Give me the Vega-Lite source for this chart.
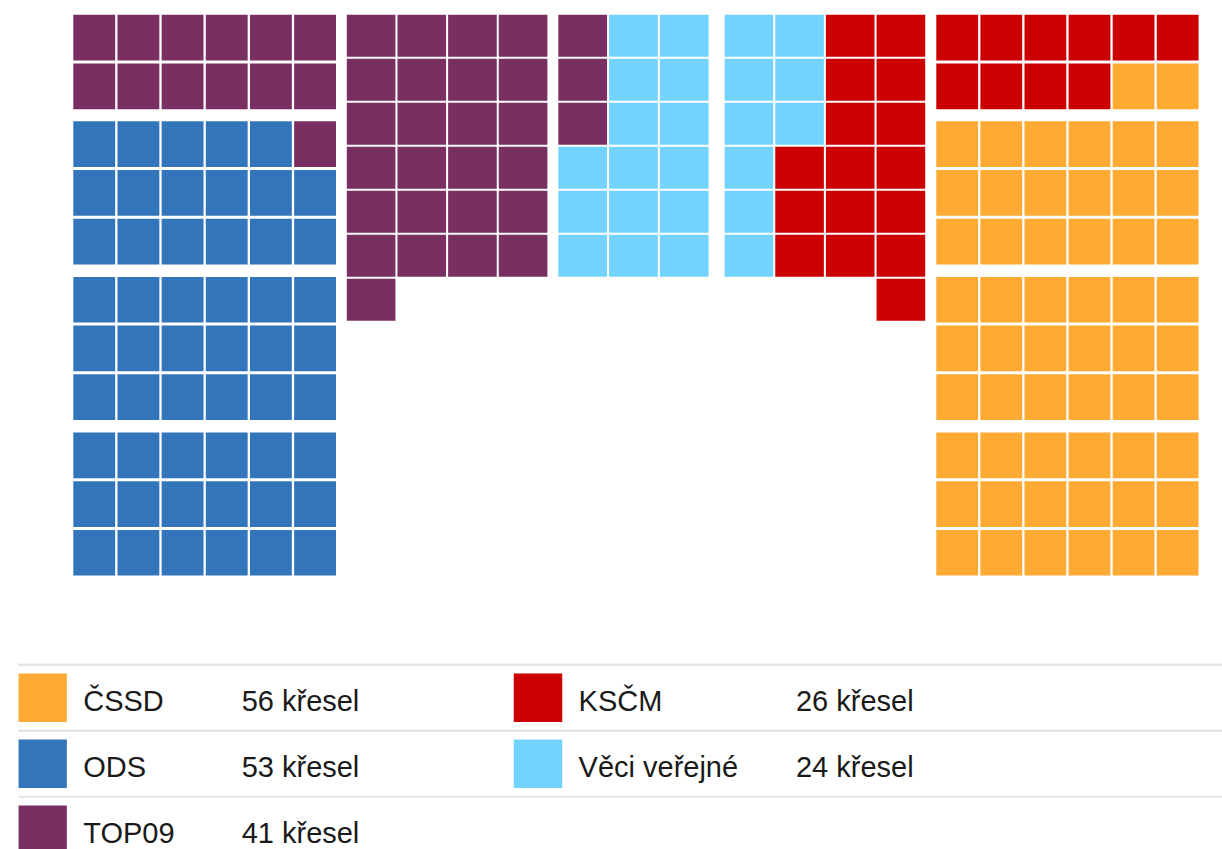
{
  "$schema": "https://vega.github.io/schema/vega-lite/v6.json",
  "padding": {"left": 17.3, "top": 14.7, "right": 0, "bottom": 0},
  "background": "white",
  "datasets": {
    "seats": [
      {"block":"L","group":1,"row":1,"col":1,"party":"TOP09"},{"block":"L","group":1,"row":1,"col":2,"party":"TOP09"},{"block":"L","group":1,"row":1,"col":3,"party":"TOP09"},{"block":"L","group":1,"row":1,"col":4,"party":"TOP09"},{"block":"L","group":1,"row":1,"col":5,"party":"TOP09"},{"block":"L","group":1,"row":1,"col":6,"party":"TOP09"},
      {"block":"L","group":1,"row":2,"col":1,"party":"TOP09"},{"block":"L","group":1,"row":2,"col":2,"party":"TOP09"},{"block":"L","group":1,"row":2,"col":3,"party":"TOP09"},{"block":"L","group":1,"row":2,"col":4,"party":"TOP09"},{"block":"L","group":1,"row":2,"col":5,"party":"TOP09"},{"block":"L","group":1,"row":2,"col":6,"party":"TOP09"},
      {"block":"L","group":2,"row":1,"col":1,"party":"ODS"},{"block":"L","group":2,"row":1,"col":2,"party":"ODS"},{"block":"L","group":2,"row":1,"col":3,"party":"ODS"},{"block":"L","group":2,"row":1,"col":4,"party":"ODS"},{"block":"L","group":2,"row":1,"col":5,"party":"ODS"},{"block":"L","group":2,"row":1,"col":6,"party":"TOP09"},
      {"block":"L","group":2,"row":2,"col":1,"party":"ODS"},{"block":"L","group":2,"row":2,"col":2,"party":"ODS"},{"block":"L","group":2,"row":2,"col":3,"party":"ODS"},{"block":"L","group":2,"row":2,"col":4,"party":"ODS"},{"block":"L","group":2,"row":2,"col":5,"party":"ODS"},{"block":"L","group":2,"row":2,"col":6,"party":"ODS"},
      {"block":"L","group":2,"row":3,"col":1,"party":"ODS"},{"block":"L","group":2,"row":3,"col":2,"party":"ODS"},{"block":"L","group":2,"row":3,"col":3,"party":"ODS"},{"block":"L","group":2,"row":3,"col":4,"party":"ODS"},{"block":"L","group":2,"row":3,"col":5,"party":"ODS"},{"block":"L","group":2,"row":3,"col":6,"party":"ODS"},
      {"block":"L","group":3,"row":1,"col":1,"party":"ODS"},{"block":"L","group":3,"row":1,"col":2,"party":"ODS"},{"block":"L","group":3,"row":1,"col":3,"party":"ODS"},{"block":"L","group":3,"row":1,"col":4,"party":"ODS"},{"block":"L","group":3,"row":1,"col":5,"party":"ODS"},{"block":"L","group":3,"row":1,"col":6,"party":"ODS"},
      {"block":"L","group":3,"row":2,"col":1,"party":"ODS"},{"block":"L","group":3,"row":2,"col":2,"party":"ODS"},{"block":"L","group":3,"row":2,"col":3,"party":"ODS"},{"block":"L","group":3,"row":2,"col":4,"party":"ODS"},{"block":"L","group":3,"row":2,"col":5,"party":"ODS"},{"block":"L","group":3,"row":2,"col":6,"party":"ODS"},
      {"block":"L","group":3,"row":3,"col":1,"party":"ODS"},{"block":"L","group":3,"row":3,"col":2,"party":"ODS"},{"block":"L","group":3,"row":3,"col":3,"party":"ODS"},{"block":"L","group":3,"row":3,"col":4,"party":"ODS"},{"block":"L","group":3,"row":3,"col":5,"party":"ODS"},{"block":"L","group":3,"row":3,"col":6,"party":"ODS"},
      {"block":"L","group":4,"row":1,"col":1,"party":"ODS"},{"block":"L","group":4,"row":1,"col":2,"party":"ODS"},{"block":"L","group":4,"row":1,"col":3,"party":"ODS"},{"block":"L","group":4,"row":1,"col":4,"party":"ODS"},{"block":"L","group":4,"row":1,"col":5,"party":"ODS"},{"block":"L","group":4,"row":1,"col":6,"party":"ODS"},
      {"block":"L","group":4,"row":2,"col":1,"party":"ODS"},{"block":"L","group":4,"row":2,"col":2,"party":"ODS"},{"block":"L","group":4,"row":2,"col":3,"party":"ODS"},{"block":"L","group":4,"row":2,"col":4,"party":"ODS"},{"block":"L","group":4,"row":2,"col":5,"party":"ODS"},{"block":"L","group":4,"row":2,"col":6,"party":"ODS"},
      {"block":"L","group":4,"row":3,"col":1,"party":"ODS"},{"block":"L","group":4,"row":3,"col":2,"party":"ODS"},{"block":"L","group":4,"row":3,"col":3,"party":"ODS"},{"block":"L","group":4,"row":3,"col":4,"party":"ODS"},{"block":"L","group":4,"row":3,"col":5,"party":"ODS"},{"block":"L","group":4,"row":3,"col":6,"party":"ODS"},

      {"block":"A","row":1,"col":1,"party":"TOP09"},{"block":"A","row":1,"col":2,"party":"TOP09"},{"block":"A","row":1,"col":3,"party":"TOP09"},{"block":"A","row":1,"col":4,"party":"TOP09"},
      {"block":"A","row":2,"col":1,"party":"TOP09"},{"block":"A","row":2,"col":2,"party":"TOP09"},{"block":"A","row":2,"col":3,"party":"TOP09"},{"block":"A","row":2,"col":4,"party":"TOP09"},
      {"block":"A","row":3,"col":1,"party":"TOP09"},{"block":"A","row":3,"col":2,"party":"TOP09"},{"block":"A","row":3,"col":3,"party":"TOP09"},{"block":"A","row":3,"col":4,"party":"TOP09"},
      {"block":"A","row":4,"col":1,"party":"TOP09"},{"block":"A","row":4,"col":2,"party":"TOP09"},{"block":"A","row":4,"col":3,"party":"TOP09"},{"block":"A","row":4,"col":4,"party":"TOP09"},
      {"block":"A","row":5,"col":1,"party":"TOP09"},{"block":"A","row":5,"col":2,"party":"TOP09"},{"block":"A","row":5,"col":3,"party":"TOP09"},{"block":"A","row":5,"col":4,"party":"TOP09"},
      {"block":"A","row":6,"col":1,"party":"TOP09"},{"block":"A","row":6,"col":2,"party":"TOP09"},{"block":"A","row":6,"col":3,"party":"TOP09"},{"block":"A","row":6,"col":4,"party":"TOP09"},
      {"block":"A","row":7,"col":1,"party":"TOP09"},

      {"block":"B","row":1,"col":1,"party":"TOP09"},{"block":"B","row":1,"col":2,"party":"Věci veřejné"},{"block":"B","row":1,"col":3,"party":"Věci veřejné"},
      {"block":"B","row":2,"col":1,"party":"TOP09"},{"block":"B","row":2,"col":2,"party":"Věci veřejné"},{"block":"B","row":2,"col":3,"party":"Věci veřejné"},
      {"block":"B","row":3,"col":1,"party":"TOP09"},{"block":"B","row":3,"col":2,"party":"Věci veřejné"},{"block":"B","row":3,"col":3,"party":"Věci veřejné"},
      {"block":"B","row":4,"col":1,"party":"Věci veřejné"},{"block":"B","row":4,"col":2,"party":"Věci veřejné"},{"block":"B","row":4,"col":3,"party":"Věci veřejné"},
      {"block":"B","row":5,"col":1,"party":"Věci veřejné"},{"block":"B","row":5,"col":2,"party":"Věci veřejné"},{"block":"B","row":5,"col":3,"party":"Věci veřejné"},
      {"block":"B","row":6,"col":1,"party":"Věci veřejné"},{"block":"B","row":6,"col":2,"party":"Věci veřejné"},{"block":"B","row":6,"col":3,"party":"Věci veřejné"},

      {"block":"C","row":1,"col":1,"party":"Věci veřejné"},{"block":"C","row":1,"col":2,"party":"Věci veřejné"},{"block":"C","row":1,"col":3,"party":"KSČM"},{"block":"C","row":1,"col":4,"party":"KSČM"},
      {"block":"C","row":2,"col":1,"party":"Věci veřejné"},{"block":"C","row":2,"col":2,"party":"Věci veřejné"},{"block":"C","row":2,"col":3,"party":"KSČM"},{"block":"C","row":2,"col":4,"party":"KSČM"},
      {"block":"C","row":3,"col":1,"party":"Věci veřejné"},{"block":"C","row":3,"col":2,"party":"Věci veřejné"},{"block":"C","row":3,"col":3,"party":"KSČM"},{"block":"C","row":3,"col":4,"party":"KSČM"},
      {"block":"C","row":4,"col":1,"party":"Věci veřejné"},{"block":"C","row":4,"col":2,"party":"KSČM"},{"block":"C","row":4,"col":3,"party":"KSČM"},{"block":"C","row":4,"col":4,"party":"KSČM"},
      {"block":"C","row":5,"col":1,"party":"Věci veřejné"},{"block":"C","row":5,"col":2,"party":"KSČM"},{"block":"C","row":5,"col":3,"party":"KSČM"},{"block":"C","row":5,"col":4,"party":"KSČM"},
      {"block":"C","row":6,"col":1,"party":"Věci veřejné"},{"block":"C","row":6,"col":2,"party":"KSČM"},{"block":"C","row":6,"col":3,"party":"KSČM"},{"block":"C","row":6,"col":4,"party":"KSČM"},
      {"block":"C","row":7,"col":4,"party":"KSČM"},

      {"block":"R","group":1,"row":1,"col":1,"party":"KSČM"},{"block":"R","group":1,"row":1,"col":2,"party":"KSČM"},{"block":"R","group":1,"row":1,"col":3,"party":"KSČM"},{"block":"R","group":1,"row":1,"col":4,"party":"KSČM"},{"block":"R","group":1,"row":1,"col":5,"party":"KSČM"},{"block":"R","group":1,"row":1,"col":6,"party":"KSČM"},
      {"block":"R","group":1,"row":2,"col":1,"party":"KSČM"},{"block":"R","group":1,"row":2,"col":2,"party":"KSČM"},{"block":"R","group":1,"row":2,"col":3,"party":"KSČM"},{"block":"R","group":1,"row":2,"col":4,"party":"KSČM"},{"block":"R","group":1,"row":2,"col":5,"party":"ČSSD"},{"block":"R","group":1,"row":2,"col":6,"party":"ČSSD"},
      {"block":"R","group":2,"row":1,"col":1,"party":"ČSSD"},{"block":"R","group":2,"row":1,"col":2,"party":"ČSSD"},{"block":"R","group":2,"row":1,"col":3,"party":"ČSSD"},{"block":"R","group":2,"row":1,"col":4,"party":"ČSSD"},{"block":"R","group":2,"row":1,"col":5,"party":"ČSSD"},{"block":"R","group":2,"row":1,"col":6,"party":"ČSSD"},
      {"block":"R","group":2,"row":2,"col":1,"party":"ČSSD"},{"block":"R","group":2,"row":2,"col":2,"party":"ČSSD"},{"block":"R","group":2,"row":2,"col":3,"party":"ČSSD"},{"block":"R","group":2,"row":2,"col":4,"party":"ČSSD"},{"block":"R","group":2,"row":2,"col":5,"party":"ČSSD"},{"block":"R","group":2,"row":2,"col":6,"party":"ČSSD"},
      {"block":"R","group":2,"row":3,"col":1,"party":"ČSSD"},{"block":"R","group":2,"row":3,"col":2,"party":"ČSSD"},{"block":"R","group":2,"row":3,"col":3,"party":"ČSSD"},{"block":"R","group":2,"row":3,"col":4,"party":"ČSSD"},{"block":"R","group":2,"row":3,"col":5,"party":"ČSSD"},{"block":"R","group":2,"row":3,"col":6,"party":"ČSSD"},
      {"block":"R","group":3,"row":1,"col":1,"party":"ČSSD"},{"block":"R","group":3,"row":1,"col":2,"party":"ČSSD"},{"block":"R","group":3,"row":1,"col":3,"party":"ČSSD"},{"block":"R","group":3,"row":1,"col":4,"party":"ČSSD"},{"block":"R","group":3,"row":1,"col":5,"party":"ČSSD"},{"block":"R","group":3,"row":1,"col":6,"party":"ČSSD"},
      {"block":"R","group":3,"row":2,"col":1,"party":"ČSSD"},{"block":"R","group":3,"row":2,"col":2,"party":"ČSSD"},{"block":"R","group":3,"row":2,"col":3,"party":"ČSSD"},{"block":"R","group":3,"row":2,"col":4,"party":"ČSSD"},{"block":"R","group":3,"row":2,"col":5,"party":"ČSSD"},{"block":"R","group":3,"row":2,"col":6,"party":"ČSSD"},
      {"block":"R","group":3,"row":3,"col":1,"party":"ČSSD"},{"block":"R","group":3,"row":3,"col":2,"party":"ČSSD"},{"block":"R","group":3,"row":3,"col":3,"party":"ČSSD"},{"block":"R","group":3,"row":3,"col":4,"party":"ČSSD"},{"block":"R","group":3,"row":3,"col":5,"party":"ČSSD"},{"block":"R","group":3,"row":3,"col":6,"party":"ČSSD"},
      {"block":"R","group":4,"row":1,"col":1,"party":"ČSSD"},{"block":"R","group":4,"row":1,"col":2,"party":"ČSSD"},{"block":"R","group":4,"row":1,"col":3,"party":"ČSSD"},{"block":"R","group":4,"row":1,"col":4,"party":"ČSSD"},{"block":"R","group":4,"row":1,"col":5,"party":"ČSSD"},{"block":"R","group":4,"row":1,"col":6,"party":"ČSSD"},
      {"block":"R","group":4,"row":2,"col":1,"party":"ČSSD"},{"block":"R","group":4,"row":2,"col":2,"party":"ČSSD"},{"block":"R","group":4,"row":2,"col":3,"party":"ČSSD"},{"block":"R","group":4,"row":2,"col":4,"party":"ČSSD"},{"block":"R","group":4,"row":2,"col":5,"party":"ČSSD"},{"block":"R","group":4,"row":2,"col":6,"party":"ČSSD"},
      {"block":"R","group":4,"row":3,"col":1,"party":"ČSSD"},{"block":"R","group":4,"row":3,"col":2,"party":"ČSSD"},{"block":"R","group":4,"row":3,"col":3,"party":"ČSSD"},{"block":"R","group":4,"row":3,"col":4,"party":"ČSSD"},{"block":"R","group":4,"row":3,"col":5,"party":"ČSSD"},{"block":"R","group":4,"row":3,"col":6,"party":"ČSSD"}
    ],
    "legend": [
      {"party":"ČSSD","seats":56,"label":"56 křesel","lcol":1,"lrow":1},
      {"party":"ODS","seats":53,"label":"53 křesel","lcol":1,"lrow":2},
      {"party":"TOP09","seats":41,"label":"41 křesel","lcol":1,"lrow":3},
      {"party":"KSČM","seats":26,"label":"26 křesel","lcol":2,"lrow":1},
      {"party":"Věci veřejné","seats":24,"label":"24 křesel","lcol":2,"lrow":2}
    ]
  },
  "vconcat": [
    {
      "hconcat": [
        {
          "hconcat": [
            {
              "data": {"name": "seats"},
              "transform": [{"filter": "datum.block == 'L'"}],
              "facet": {"row": {"field": "group", "type": "ordinal", "header": null}},
              "spacing": {"row": 11.6},
              "resolve": {"scale": {"y": "independent"}},
              "spec": {
                "width": 318,
                "height": {"step": 48.7},
                "mark": {"type": "rect"},
                "encoding": {
                  "x": {"field": "col", "type": "ordinal", "axis": null, "scale": {"range": [55, 317.7], "paddingInner": 0.052, "paddingOuter": 0}},
                  "y": {"field": "row", "type": "ordinal", "axis": null, "scale": {"paddingInner": 0.061, "paddingOuter": 0}},
                  "color": {"field": "party", "type": "nominal", "legend": null, "scale": {"domain": ["ČSSD","ODS","TOP09","KSČM","Věci veřejné"], "range": ["#FFAA33","#3375BB","#7A2F63","#CC0000","#72D3FE"]}}
                }
              }
            },
            {
              "data": {"name": "seats"},
              "transform": [{"filter": "datum.block == 'A'"}],
              "width": 200.6,
              "height": 306,
              "mark": {"type": "rect"},
              "encoding": {
                "x": {"field": "col", "type": "ordinal", "axis": null, "scale": {"paddingInner": 0.04, "paddingOuter": 0}},
                "y": {"field": "row", "type": "ordinal", "axis": null, "scale": {"paddingInner": 0.045, "paddingOuter": 0}},
                "color": {"field": "party", "type": "nominal", "legend": null, "scale": {"domain": ["ČSSD","ODS","TOP09","KSČM","Věci veřejné"], "range": ["#FFAA33","#3375BB","#7A2F63","#CC0000","#72D3FE"]}}
              }
            },
            {
              "data": {"name": "seats"},
              "transform": [{"filter": "datum.block == 'B'"}],
              "width": 150.3,
              "height": 262,
              "mark": {"type": "rect"},
              "encoding": {
                "x": {"field": "col", "type": "ordinal", "axis": null, "scale": {"paddingInner": 0.04, "paddingOuter": 0}},
                "y": {"field": "row", "type": "ordinal", "axis": null, "scale": {"paddingInner": 0.045, "paddingOuter": 0}},
                "color": {"field": "party", "type": "nominal", "legend": null, "scale": {"domain": ["ČSSD","ODS","TOP09","KSČM","Věci veřejné"], "range": ["#FFAA33","#3375BB","#7A2F63","#CC0000","#72D3FE"]}}
              }
            }
          ],
          "spacing": 10.5
        },
        {
          "hconcat": [
            {
              "data": {"name": "seats"},
              "transform": [{"filter": "datum.block == 'C'"}],
              "width": 200.6,
              "height": 306,
              "mark": {"type": "rect"},
              "encoding": {
                "x": {"field": "col", "type": "ordinal", "axis": null, "scale": {"paddingInner": 0.04, "paddingOuter": 0}},
                "y": {"field": "row", "type": "ordinal", "axis": null, "scale": {"paddingInner": 0.045, "paddingOuter": 0}},
                "color": {"field": "party", "type": "nominal", "legend": null, "scale": {"domain": ["ČSSD","ODS","TOP09","KSČM","Věci veřejné"], "range": ["#FFAA33","#3375BB","#7A2F63","#CC0000","#72D3FE"]}}
              }
            },
            {
              "data": {"name": "seats"},
              "transform": [{"filter": "datum.block == 'R'"}],
              "facet": {"row": {"field": "group", "type": "ordinal", "header": null}},
              "spacing": {"row": 11.6},
              "resolve": {"scale": {"y": "independent"}},
              "spec": {
                "width": 262.3,
                "height": {"step": 48.7},
                "mark": {"type": "rect"},
                "encoding": {
                  "x": {"field": "col", "type": "ordinal", "axis": null, "scale": {"paddingInner": 0.052, "paddingOuter": 0}},
                  "y": {"field": "row", "type": "ordinal", "axis": null, "scale": {"paddingInner": 0.061, "paddingOuter": 0}},
                  "color": {"field": "party", "type": "nominal", "legend": null, "scale": {"domain": ["ČSSD","ODS","TOP09","KSČM","Věci veřejné"], "range": ["#FFAA33","#3375BB","#7A2F63","#CC0000","#72D3FE"]}}
                }
              }
            }
          ],
          "spacing": 10.7
        }
      ],
      "spacing": 15.3
    },
    {
      "data": {"name": "legend"},
      "width": 1204.7,
      "height": 186,
      "encoding": {
        "y": {"field": "lrow", "type": "ordinal", "axis": null, "scale": {"domain": [1, 2, 3], "range": [0, 198], "paddingInner": 0, "paddingOuter": 0}}
      },
      "layer": [
        {
          "mark": {"type": "rule", "color": "#e4e4e4", "strokeWidth": 2},
          "encoding": {
            "y": {"field": "lrow", "type": "ordinal", "bandPosition": 0}
          }
        },
        {
          "mark": {"type": "square", "size": 2352, "opacity": 1, "filled": true, "clip": true, "xOffset": -223.4},
          "encoding": {
            "x": {"field": "lcol", "type": "ordinal", "axis": null, "scale": {"domain": [1, 2], "range": [0, 990.8], "paddingInner": 0, "paddingOuter": 0}},
            "color": {"field": "party", "type": "nominal", "legend": null, "scale": {"domain": ["ČSSD","ODS","TOP09","KSČM","Věci veřejné"], "range": ["#FFAA33","#3375BB","#7A2F63","#CC0000","#72D3FE"]}}
          }
        },
        {
          "mark": {"type": "text", "align": "left", "baseline": "alphabetic", "dy": 13, "xOffset": -182.8, "fontSize": 29, "font": "Liberation Sans", "color": "#1a1a1a"},
          "encoding": {
            "x": {"field": "lcol", "type": "ordinal"},
            "text": {"field": "party"}
          }
        },
        {
          "transform": [{"filter": "datum.lcol == 1"}],
          "mark": {"type": "text", "align": "left", "baseline": "alphabetic", "dy": 13, "xOffset": -24.3, "fontSize": 29, "font": "Liberation Sans", "color": "#1a1a1a"},
          "encoding": {
            "x": {"field": "lcol", "type": "ordinal"},
            "text": {"field": "label"}
          }
        },
        {
          "transform": [{"filter": "datum.lcol == 2"}],
          "mark": {"type": "text", "align": "left", "baseline": "alphabetic", "dy": 13, "xOffset": 34.6, "fontSize": 29, "font": "Liberation Sans", "color": "#1a1a1a"},
          "encoding": {
            "x": {"field": "lcol", "type": "ordinal"},
            "text": {"field": "label"}
          }
        }
      ]
    }
  ],
  "spacing": 88,
  "config": {
    "view": {"stroke": null},
    "font": "Liberation Sans"
  }
}
